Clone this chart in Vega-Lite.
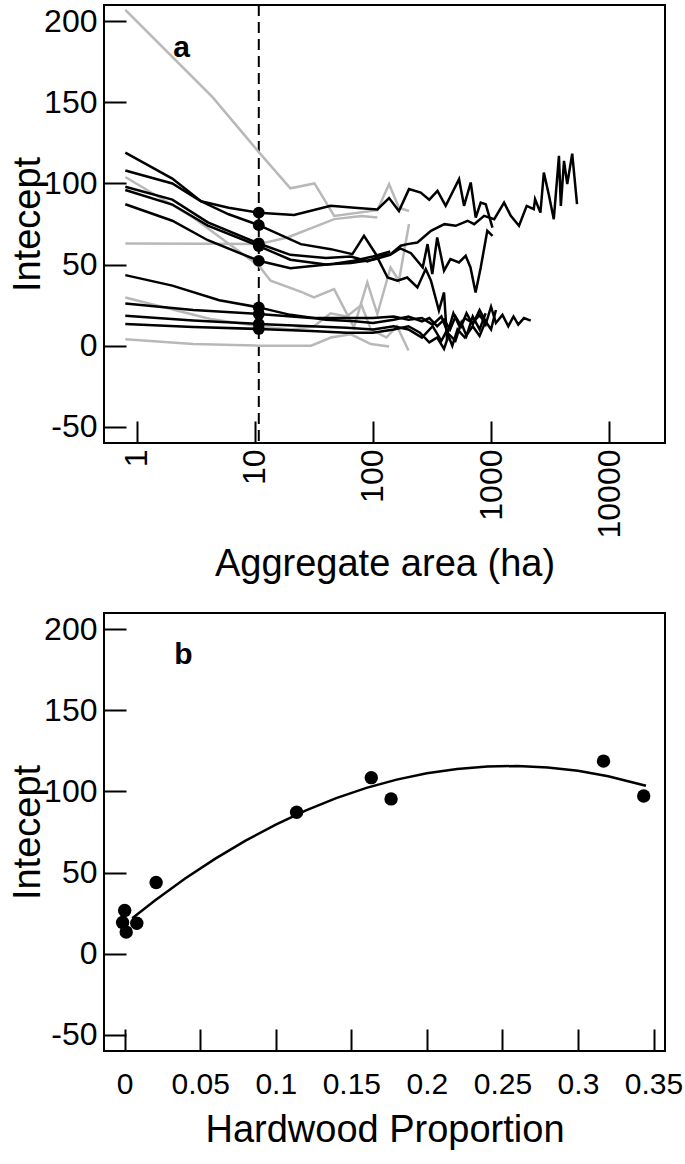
{
  "$schema": "https://vega.github.io/schema/vega-lite/v6.json",
  "background": "white",
  "padding": {"left": 8, "top": 3, "right": 5, "bottom": 5},
  "spacing": 170,
  "bounds": "flush",
  "config": {
    "view": {"stroke": "black", "strokeWidth": 2},
    "axis": {"domain": false, "grid": false, "tickColor": "black", "tickWidth": 2, "tickSize": -22, "labelPadding": 29, "labelFont": "Liberation Sans", "labelFontSize": 32, "labelColor": "black", "titleFont": "Liberation Sans", "titleFontSize": 38, "titleFontWeight": "normal", "titleColor": "black", "labelFlush": false, "labelOverlap": false},
    "axisY": {"labelExpr": "'' + datum.value", "titleX": -57, "titleBaseline": "bottom"}
  },
  "datasets": {
    "lines": [
      {"s":"G1","g":"gray","x":0.8,"y":207},{"s":"G1","g":"gray","x":4.4,"y":153},{"s":"G1","g":"gray","x":10.9,"y":119},{"s":"G1","g":"gray","x":20,"y":97},{"s":"G1","g":"gray","x":32,"y":100},{"s":"G1","g":"gray","x":47,"y":80},{"s":"G1","g":"gray","x":109,"y":83.5},{"s":"G1","g":"gray","x":137,"y":99.5},{"s":"G1","g":"gray","x":166,"y":85},{"s":"G1","g":"gray","x":202,"y":83},
      {"s":"G2","g":"gray","x":0.8,"y":104},{"s":"G2","g":"gray","x":3,"y":79},{"s":"G2","g":"gray","x":10.9,"y":49},{"s":"G2","g":"gray","x":13.6,"y":40},{"s":"G2","g":"gray","x":25,"y":33},{"s":"G2","g":"gray","x":31.7,"y":29.7},{"s":"G2","g":"gray","x":46.9,"y":34.9},{"s":"G2","g":"gray","x":69,"y":11.3},{"s":"G2","g":"gray","x":89.6,"y":39},{"s":"G2","g":"gray","x":109,"y":19.5},{"s":"G2","g":"gray","x":141,"y":48.2},{"s":"G2","g":"gray","x":166,"y":40},{"s":"G2","g":"gray","x":202,"y":75},
      {"s":"G3","g":"gray","x":0.8,"y":63},{"s":"G3","g":"gray","x":4,"y":62.8},{"s":"G3","g":"gray","x":10.8,"y":62.6},{"s":"G3","g":"gray","x":18.9,"y":66.7},{"s":"G3","g":"gray","x":47,"y":78},{"s":"G3","g":"gray","x":80,"y":80},{"s":"G3","g":"gray","x":109,"y":79},
      {"s":"G4","g":"gray","x":0.8,"y":29.7},{"s":"G4","g":"gray","x":4.2,"y":16.4},{"s":"G4","g":"gray","x":10.8,"y":12},{"s":"G4","g":"gray","x":20,"y":10},{"s":"G4","g":"gray","x":31.7,"y":12},{"s":"G4","g":"gray","x":43.8,"y":20},{"s":"G4","g":"gray","x":60,"y":18},{"s":"G4","g":"gray","x":80,"y":25},{"s":"G4","g":"gray","x":96,"y":10},{"s":"G4","g":"gray","x":130,"y":5},{"s":"G4","g":"gray","x":160,"y":12},{"s":"G4","g":"gray","x":200,"y":-3},
      {"s":"G5","g":"gray","x":0.8,"y":4},{"s":"G5","g":"gray","x":3,"y":1},{"s":"G5","g":"gray","x":10.8,"y":0},{"s":"G5","g":"gray","x":30,"y":0},{"s":"G5","g":"gray","x":44,"y":5},{"s":"G5","g":"gray","x":65,"y":7},{"s":"G5","g":"gray","x":96,"y":1},{"s":"G5","g":"gray","x":137,"y":-0.5},
      {"s":"B1","g":"black","x":0.8,"y":108},{"s":"B1","g":"black","x":2,"y":100},{"s":"B1","g":"black","x":3.5,"y":89},{"s":"B1","g":"black","x":6,"y":85},{"s":"B1","g":"black","x":10.8,"y":82},{"s":"B1","g":"black","x":21.5,"y":80.5},{"s":"B1","g":"black","x":43.9,"y":86.2},{"s":"B1","g":"black","x":70,"y":85},{"s":"B1","g":"black","x":109,"y":84},{"s":"B1","g":"black","x":137,"y":91},{"s":"B1","g":"black","x":166,"y":83},{"s":"B1","g":"black","x":202,"y":96.5},{"s":"B1","g":"black","x":254,"y":94.4},{"s":"B1","g":"black","x":300,"y":90},{"s":"B1","g":"black","x":352,"y":95.4},{"s":"B1","g":"black","x":413,"y":86.2},{"s":"B1","g":"black","x":536,"y":102.6},{"s":"B1","g":"black","x":591,"y":86.2},{"s":"B1","g":"black","x":673,"y":100.6},{"s":"B1","g":"black","x":742,"y":79},{"s":"B1","g":"black","x":818,"y":88.2},{"s":"B1","g":"black","x":902,"y":87.2},{"s":"B1","g":"black","x":1028,"y":72.8},
      {"s":"B2","g":"black","x":0.8,"y":119},{"s":"B2","g":"black","x":2,"y":103},{"s":"B2","g":"black","x":3.5,"y":89},{"s":"B2","g":"black","x":6,"y":81},{"s":"B2","g":"black","x":10.8,"y":74.3},{"s":"B2","g":"black","x":24.5,"y":62.6},{"s":"B2","g":"black","x":44,"y":59.5},{"s":"B2","g":"black","x":67,"y":56.4},{"s":"B2","g":"black","x":84,"y":67.7},{"s":"B2","g":"black","x":108,"y":55.4},{"s":"B2","g":"black","x":141,"y":56.4},{"s":"B2","g":"black","x":172,"y":61.6},{"s":"B2","g":"black","x":196,"y":62.6},{"s":"B2","g":"black","x":238,"y":63.6},{"s":"B2","g":"black","x":310,"y":70.8},{"s":"B2","g":"black","x":403,"y":74.9},{"s":"B2","g":"black","x":502,"y":73.9},{"s":"B2","g":"black","x":633,"y":77},{"s":"B2","g":"black","x":720,"y":74.9},{"s":"B2","g":"black","x":874,"y":80},{"s":"B2","g":"black","x":1064,"y":78},{"s":"B2","g":"black","x":1290,"y":88.2},{"s":"B2","g":"black","x":1470,"y":80},{"s":"B2","g":"black","x":1725,"y":73.9},{"s":"B2","g":"black","x":2005,"y":86.2},{"s":"B2","g":"black","x":2300,"y":84.2},{"s":"B2","g":"black","x":2360,"y":90.3},{"s":"B2","g":"black","x":2620,"y":82},{"s":"B2","g":"black","x":2800,"y":106.7},{"s":"B2","g":"black","x":3080,"y":93.4},{"s":"B2","g":"black","x":3400,"y":78},{"s":"B2","g":"black","x":3760,"y":117},{"s":"B2","g":"black","x":3900,"y":86.2},{"s":"B2","g":"black","x":4150,"y":113.9},{"s":"B2","g":"black","x":4420,"y":99.6},{"s":"B2","g":"black","x":4870,"y":118.4},{"s":"B2","g":"black","x":5350,"y":87.2},
      {"s":"B3","g":"black","x":0.8,"y":98},{"s":"B3","g":"black","x":2,"y":90},{"s":"B3","g":"black","x":4,"y":76},{"s":"B3","g":"black","x":10.8,"y":63},{"s":"B3","g":"black","x":20,"y":56},{"s":"B3","g":"black","x":40,"y":54},{"s":"B3","g":"black","x":65,"y":55},{"s":"B3","g":"black","x":90,"y":52},{"s":"B3","g":"black","x":109,"y":54.4},{"s":"B3","g":"black","x":133,"y":42},{"s":"B3","g":"black","x":161,"y":40},{"s":"B3","g":"black","x":195,"y":42},{"s":"B3","g":"black","x":238,"y":35.9},{"s":"B3","g":"black","x":280,"y":47.2},{"s":"B3","g":"black","x":310,"y":40},{"s":"B3","g":"black","x":362,"y":21.6},{"s":"B3","g":"black","x":400,"y":32.8},{"s":"B3","g":"black","x":425,"y":3},
      {"s":"B4","g":"black","x":0.8,"y":96},{"s":"B4","g":"black","x":2,"y":87},{"s":"B4","g":"black","x":4,"y":74},{"s":"B4","g":"black","x":10.8,"y":61.4},{"s":"B4","g":"black","x":20,"y":53},{"s":"B4","g":"black","x":40,"y":50},{"s":"B4","g":"black","x":65,"y":51},{"s":"B4","g":"black","x":100,"y":53},{"s":"B4","g":"black","x":140,"y":56},{"s":"B4","g":"black","x":170,"y":60},{"s":"B4","g":"black","x":210,"y":57},{"s":"B4","g":"black","x":264,"y":48.2},{"s":"B4","g":"black","x":290,"y":62.6},{"s":"B4","g":"black","x":318,"y":44.1},{"s":"B4","g":"black","x":350,"y":66.7},{"s":"B4","g":"black","x":400,"y":46.2},{"s":"B4","g":"black","x":453,"y":53.4},{"s":"B4","g":"black","x":535,"y":51.3},{"s":"B4","g":"black","x":610,"y":55.4},{"s":"B4","g":"black","x":670,"y":48.2},{"s":"B4","g":"black","x":740,"y":32.8},{"s":"B4","g":"black","x":818,"y":48.2},{"s":"B4","g":"black","x":930,"y":70.8},{"s":"B4","g":"black","x":1030,"y":67.7},
      {"s":"B5","g":"black","x":0.8,"y":87.2},{"s":"B5","g":"black","x":2,"y":77},{"s":"B5","g":"black","x":4,"y":65},{"s":"B5","g":"black","x":10.8,"y":52.3},{"s":"B5","g":"black","x":20,"y":47.8},{"s":"B5","g":"black","x":47,"y":50.5},{"s":"B5","g":"black","x":69,"y":52.3},{"s":"B5","g":"black","x":100,"y":55},{"s":"B5","g":"black","x":140,"y":58},
      {"s":"B6","g":"black","x":0.8,"y":43.5},{"s":"B6","g":"black","x":2,"y":37},{"s":"B6","g":"black","x":5,"y":28},{"s":"B6","g":"black","x":10.8,"y":23.6},{"s":"B6","g":"black","x":20,"y":19},{"s":"B6","g":"black","x":40,"y":16},{"s":"B6","g":"black","x":70,"y":15},{"s":"B6","g":"black","x":100,"y":14},{"s":"B6","g":"black","x":150,"y":16},{"s":"B6","g":"black","x":200,"y":18},{"s":"B6","g":"black","x":260,"y":15},{"s":"B6","g":"black","x":300,"y":17},{"s":"B6","g":"black","x":350,"y":12},{"s":"B6","g":"black","x":400,"y":16},{"s":"B6","g":"black","x":450,"y":10},{"s":"B6","g":"black","x":500,"y":18},{"s":"B6","g":"black","x":560,"y":12},{"s":"B6","g":"black","x":620,"y":20},{"s":"B6","g":"black","x":700,"y":13},{"s":"B6","g":"black","x":800,"y":22},{"s":"B6","g":"black","x":900,"y":15},
      {"s":"B7","g":"black","x":0.8,"y":26},{"s":"B7","g":"black","x":3,"y":22},{"s":"B7","g":"black","x":10.8,"y":19.5},{"s":"B7","g":"black","x":30,"y":17},{"s":"B7","g":"black","x":60,"y":17},{"s":"B7","g":"black","x":100,"y":17},{"s":"B7","g":"black","x":150,"y":18},{"s":"B7","g":"black","x":200,"y":16},{"s":"B7","g":"black","x":260,"y":17},{"s":"B7","g":"black","x":320,"y":13},{"s":"B7","g":"black","x":380,"y":18},{"s":"B7","g":"black","x":430,"y":8},{"s":"B7","g":"black","x":480,"y":20},{"s":"B7","g":"black","x":540,"y":12},{"s":"B7","g":"black","x":600,"y":17},{"s":"B7","g":"black","x":700,"y":14},{"s":"B7","g":"black","x":800,"y":19},{"s":"B7","g":"black","x":900,"y":13},{"s":"B7","g":"black","x":1000,"y":24},{"s":"B7","g":"black","x":1100,"y":14},{"s":"B7","g":"black","x":1250,"y":19},{"s":"B7","g":"black","x":1400,"y":12},{"s":"B7","g":"black","x":1550,"y":18},{"s":"B7","g":"black","x":1700,"y":13},{"s":"B7","g":"black","x":1900,"y":17},{"s":"B7","g":"black","x":2170,"y":15.4},
      {"s":"B8","g":"black","x":0.8,"y":18.5},{"s":"B8","g":"black","x":3,"y":15.5},{"s":"B8","g":"black","x":10.8,"y":13.4},{"s":"B8","g":"black","x":30,"y":12},{"s":"B8","g":"black","x":60,"y":11},{"s":"B8","g":"black","x":100,"y":10},{"s":"B8","g":"black","x":150,"y":12},{"s":"B8","g":"black","x":200,"y":10},{"s":"B8","g":"black","x":260,"y":5},{"s":"B8","g":"black","x":320,"y":12},{"s":"B8","g":"black","x":380,"y":3},{"s":"B8","g":"black","x":420,"y":9},{"s":"B8","g":"black","x":470,"y":0},{"s":"B8","g":"black","x":520,"y":10},{"s":"B8","g":"black","x":600,"y":5},{"s":"B8","g":"black","x":700,"y":12},{"s":"B8","g":"black","x":800,"y":6},{"s":"B8","g":"black","x":900,"y":15},{"s":"B8","g":"black","x":1000,"y":10},{"s":"B8","g":"black","x":1100,"y":22},
      {"s":"B9","g":"black","x":0.8,"y":13.4},{"s":"B9","g":"black","x":3,"y":11.5},{"s":"B9","g":"black","x":10.8,"y":10.3},{"s":"B9","g":"black","x":30,"y":9},{"s":"B9","g":"black","x":60,"y":8},{"s":"B9","g":"black","x":100,"y":8},{"s":"B9","g":"black","x":150,"y":10},{"s":"B9","g":"black","x":200,"y":12},{"s":"B9","g":"black","x":250,"y":8},{"s":"B9","g":"black","x":300,"y":2},{"s":"B9","g":"black","x":350,"y":5},{"s":"B9","g":"black","x":400,"y":-2},{"s":"B9","g":"black","x":440,"y":7},{"s":"B9","g":"black","x":500,"y":3},{"s":"B9","g":"black","x":560,"y":14},{"s":"B9","g":"black","x":620,"y":6},{"s":"B9","g":"black","x":700,"y":18},{"s":"B9","g":"black","x":800,"y":10},{"s":"B9","g":"black","x":900,"y":20}
    ],
    "dots": [
      {"x":10.8,"y":82},{"x":10.8,"y":74.3},{"x":10.8,"y":63},{"x":10.8,"y":61.4},{"x":10.8,"y":52.3},{"x":10.8,"y":23.6},{"x":10.8,"y":19.5},{"x":10.8,"y":13.4},{"x":10.8,"y":10.3}
    ],
    "pts": [
      {"x":0.0,"y":26.6},{"x":-0.0014,"y":19.2},{"x":0.001,"y":13.3},{"x":0.008,"y":18.8},{"x":0.0208,"y":43.9},{"x":0.1138,"y":87.2},{"x":0.1632,"y":108.5},{"x":0.1763,"y":95.4},{"x":0.3169,"y":118.7},{"x":0.3435,"y":97.2}
    ],
    "curve": [
      {"x":0.005,"y":21.9},{"x":0.02,"y":32.8},{"x":0.04,"y":46.3},{"x":0.06,"y":58.6},{"x":0.08,"y":69.7},{"x":0.1,"y":79.6},{"x":0.12,"y":88.3},{"x":0.14,"y":95.9},{"x":0.16,"y":102.2},{"x":0.18,"y":107.3},{"x":0.2,"y":111.2},{"x":0.22,"y":113.9},{"x":0.24,"y":115.4},{"x":0.26,"y":115.7},{"x":0.28,"y":114.8},{"x":0.3,"y":112.7},{"x":0.32,"y":109.4},{"x":0.345,"y":103.5}
    ]
  },
  "vconcat": [
    {
      "width": 561,
      "height": 438,
      "layer": [
        {
          "data": {"values": [{"x": 10.8}]},
          "mark": {"type": "rule", "color": "black", "strokeWidth": 2, "strokeDash": [11, 6]},
          "encoding": {
            "x": {"field": "x", "type": "quantitative", "scale": {"type": "log", "domain": [0.528, 29730], "nice": false}, "axis": {"values": [1, 10, 100, 1000, 10000], "format": "d", "labelAngle": 270, "labelPadding": 28, "title": "Aggregate area (ha)", "titlePadding": 8}}
          }
        },
        {
          "data": {"name": "lines"},
          "transform": [{"filter": "datum.g == 'gray'"}],
          "mark": {"type": "line", "color": "#b8b8b8", "strokeWidth": 2.5, "clip": true},
          "encoding": {
            "x": {"field": "x", "type": "quantitative", "scale": {"type": "log", "domain": [0.528, 29730], "nice": false}},
            "y": {"field": "y", "type": "quantitative", "scale": {"domain": [-60, 210], "nice": false, "zero": false}, "axis": {"values": [-50, 0, 50, 100, 150, 200], "title": "Intecept"}},
            "detail": {"field": "s"}
          }
        },
        {
          "data": {"name": "lines"},
          "transform": [{"filter": "datum.g == 'black'"}],
          "mark": {"type": "line", "color": "black", "strokeWidth": 2.5, "clip": true},
          "encoding": {
            "x": {"field": "x", "type": "quantitative", "scale": {"type": "log", "domain": [0.528, 29730], "nice": false}},
            "y": {"field": "y", "type": "quantitative", "scale": {"domain": [-60, 210], "nice": false, "zero": false}},
            "detail": {"field": "s"}
          }
        },
        {
          "data": {"name": "dots"},
          "mark": {"type": "circle", "color": "black", "opacity": 1, "size": 140},
          "encoding": {
            "x": {"field": "x", "type": "quantitative", "scale": {"type": "log", "domain": [0.528, 29730], "nice": false}},
            "y": {"field": "y", "type": "quantitative", "scale": {"domain": [-60, 210], "nice": false, "zero": false}}
          }
        },
        {
          "data": {"values": [{"x": 2.4, "y": 183.5, "t": "a"}]},
          "mark": {"type": "text", "font": "Liberation Sans", "fontWeight": "bold", "fontSize": 30, "color": "black", "align": "center", "baseline": "middle"},
          "encoding": {
            "x": {"field": "x", "type": "quantitative", "scale": {"type": "log", "domain": [0.528, 29730], "nice": false}},
            "y": {"field": "y", "type": "quantitative", "scale": {"domain": [-60, 210], "nice": false, "zero": false}},
            "text": {"field": "t"}
          }
        }
      ]
    },
    {
      "width": 561,
      "height": 438,
      "layer": [
        {
          "data": {"name": "curve"},
          "mark": {"type": "line", "color": "black", "strokeWidth": 2.5},
          "encoding": {
            "x": {"field": "x", "type": "quantitative", "scale": {"domain": [-0.0137, 0.3576], "nice": false, "zero": false}, "axis": {"values": [0, 0.05, 0.1, 0.15, 0.2, 0.25, 0.3, 0.35], "format": "~g", "labelFontSize": 30, "labelPadding": 40, "title": "Hardwood Proportion", "titlePadding": 12}},
            "y": {"field": "y", "type": "quantitative", "scale": {"domain": [-60, 210], "nice": false, "zero": false}, "axis": {"values": [-50, 0, 50, 100, 150, 200], "title": "Intecept"}}
          }
        },
        {
          "data": {"name": "pts"},
          "mark": {"type": "circle", "color": "black", "opacity": 1, "size": 180},
          "encoding": {
            "x": {"field": "x", "type": "quantitative", "scale": {"domain": [-0.0137, 0.3576], "nice": false, "zero": false}},
            "y": {"field": "y", "type": "quantitative", "scale": {"domain": [-60, 210], "nice": false, "zero": false}}
          }
        },
        {
          "data": {"values": [{"x": 0.0388, "y": 184, "t": "b"}]},
          "mark": {"type": "text", "font": "Liberation Sans", "fontWeight": "bold", "fontSize": 30, "color": "black", "align": "center", "baseline": "middle"},
          "encoding": {
            "x": {"field": "x", "type": "quantitative", "scale": {"domain": [-0.0137, 0.3576], "nice": false, "zero": false}},
            "y": {"field": "y", "type": "quantitative", "scale": {"domain": [-60, 210], "nice": false, "zero": false}},
            "text": {"field": "t"}
          }
        }
      ]
    }
  ]
}
